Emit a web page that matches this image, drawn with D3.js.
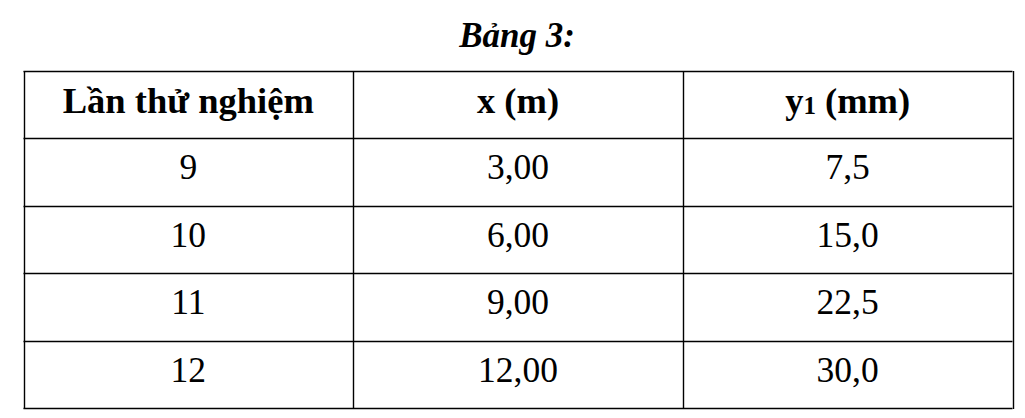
<!DOCTYPE html>
<html>
<head>
<meta charset="utf-8">
<script src="https://cdn.jsdelivr.net/npm/d3@7/dist/d3.min.js"></script>
<style>
  html, body { margin: 0; padding: 0; background: #fff; }
  svg { display: block; }
</style>
</head>
<body>
<svg id="chart" width="1025" height="418"></svg>
<script>
const title = "Bảng 3:";
const columns = ["Lần thử nghiệm", "x (m)", "y1 (mm)"];
const trials = [9, 10, 11, 12];
const xValues = [3.00, 6.00, 9.00, 12.00];
const y1Values = [7.5, 15.0, 22.5, 30.0];

(function () {
const FONT = "'Liberation Serif', Tinos, 'Times New Roman', 'DejaVu Serif', serif";
const tLeft = 23.5, tRight = 1012.5, tTop = 71, tBottom = 408;

const svg = d3.select("#chart").style("font-family", FONT);

const fmt = (v, d) => v.toFixed(d).replace(".", ",");
const rows = trials.map((t, i) => [String(t), fmt(xValues[i], 2), fmt(y1Values[i], 1)]);

const rowKeys = ["header"].concat(trials.map(String));
const yScale = d3.scaleBand().domain(rowKeys).range([tTop, tBottom]);
const xScale = d3.scaleBand().domain(columns).range([tLeft, tRight]);

svg.append("text")
  .attr("x", 517).attr("y", 47)
  .attr("text-anchor", "middle")
  .attr("font-family", FONT)
  .attr("font-size", 35).attr("font-weight", "bold").attr("font-style", "italic")
  .attr("fill", "#000")
  .text(title);

const grid = svg.append("g").attr("stroke", "#000").attr("stroke-width", 1.4).attr("fill", "none");
const hLines = rowKeys.map(k => yScale(k)).concat([tBottom]);
grid.selectAll("line.h").data(hLines).join("line")
  .attr("class", "h")
  .attr("x1", tLeft).attr("x2", tRight)
  .attr("y1", d => Math.round(d) + 0.5).attr("y2", d => Math.round(d) + 0.5);
const vLines = columns.map(c => xScale(c)).concat([tRight]);
grid.selectAll("line.v").data(vLines).join("line")
  .attr("class", "v")
  .attr("y1", tTop).attr("y2", tBottom + 1)
  .attr("x1", d => Math.round(d) + 0.5).attr("x2", d => Math.round(d) + 0.5);

const cx = c => xScale(c) + xScale.bandwidth() / 2;
const baseOff = 41;

const hdr = svg.append("g").attr("font-family", FONT).attr("font-size", 36.5)
  .attr("font-weight", "bold").attr("text-anchor", "middle").attr("fill", "#000");
columns.forEach((c) => {
  const t = hdr.append("text").attr("x", cx(c)).attr("y", yScale("header") + 42);
  if (c === "y1 (mm)") {
    t.append("tspan").text("y");
    t.append("tspan").attr("font-size", 25).attr("dy", 1).text("1");
    t.append("tspan").attr("dy", -1).text(" (mm)");
  } else {
    t.text(c);
  }
});

const body = svg.append("g").attr("font-family", FONT).attr("font-size", 35.5)
  .attr("text-anchor", "middle").attr("fill", "#000");
rows.forEach((r, ri) => {
  r.forEach((v, ci) => {
    body.append("text")
      .attr("x", cx(columns[ci]))
      .attr("y", yScale(String(trials[ri])) + baseOff)
      .text(v);
  });
});
})();
</script>
</body>
</html>
